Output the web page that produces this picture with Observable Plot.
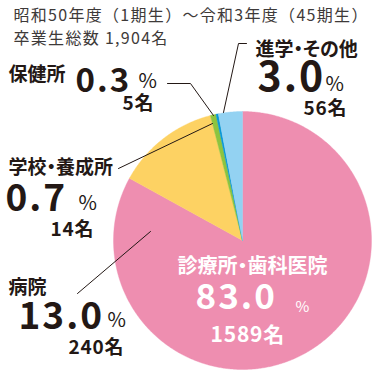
<!DOCTYPE html>
<html><head><meta charset="utf-8">
<script src="https://cdn.jsdelivr.net/npm/d3@7"></script>
<script src="https://cdn.jsdelivr.net/npm/@observablehq/plot@0.6"></script>
<style>
body{margin:0;background:#fff}
svg{display:block}
</style>
</head><body><div id="chart"></div>
<script>
// ---- data ----
const categories = ["診療所・歯科医院","病院","学校・養成所","保健所","進学・その他"];
const percents = [83.0, 13.0, 0.7, 0.3, 3.0];
const counts = [1589, 240, 14, 5, 56];
const colors = ["#EE8EB0","#FDD263","#8DC43F","#0A98D6","#93D2F2"];
const titleLines = ["昭和50年度（1期生）～令和3年度（45期生）","卒業生総数 1,904名"];

// ---- layout (pixels) ----
const W = 375, H = 375;
const pie = {cx: 242, cy: 240, r: 129};
const FONT = "'Noto Sans CJK JP', 'Noto Sans', sans-serif";
const INK = "#231815";
// per category: name, number, percent sign, count positions (glyph centres)
const layout = [
  {name:[177,266,20], num:[195,297.5,35], pct:[295,307,15], cnt:[210,334.5,21], fill:"#fff"},
  {name:[8,287.5,19], num:[18,316.5,37], pct:[107,320.5,20], cnt:[68,347.5,19], fill:INK},
  {name:[8,167.5,19], num:[5,198.5,37], pct:[78,203.5,20], cnt:[50,229.5,19], fill:INK},
  {name:[8,74.5,19], num:[75,81,33], pct:[138,81.5,20], cnt:[122,103.5,19], fill:INK},
  {name:[255,49,19], num:[257,77,41], pct:[325,84.5,20], cnt:[303,108.5,19], fill:INK}
];
const leaders = [
  [[77,293],[150,231]],
  [[118,168],[212,123]],
  [[167,83],[190,83],[213,115]],
  [[246,43],[238,43],[223,112]]
];
// extra text styling per text mark (in mark order)
const textStyles = [
  "letter-spacing:1.3px",                               // title
  "font-feature-settings:'palt'",                       // names
  "letter-spacing:2px",                                 // big numbers
  "",                                                   // %
  "letter-spacing:0.8px;font-feature-settings:'palt'"   // counts
];

// ---- pie geometry from the data ----
const arcs = d3.pie().sort(null).value(d => d.value)(categories.map((c,i)=>({cat:c, value:percents[i]})));
const piePts = [];
arcs.forEach(a => {
  const cat = a.data.cat;
  piePts.push({cat, x: pie.cx, y: pie.cy});
  const n = Math.max(2, Math.ceil((a.endAngle - a.startAngle) / (Math.PI/360)));
  for (let k = 0; k <= n; k++) {
    const t = a.startAngle + (a.endAngle - a.startAngle) * k / n;
    piePts.push({cat, x: pie.cx + pie.r*Math.sin(t), y: pie.cy - pie.r*Math.cos(t)});
  }
  piePts.push({cat, x: pie.cx, y: pie.cy});
});

const rows = categories.map((c,i)=>({
  cat:c, lay:layout[i],
  name:c, num:percents[i].toFixed(1), pct:"%", cnt:counts[i]+"名"
}));
const textMark = (key, weight) => Plot.text(rows, {
  x: d => d.lay[key][0], y: d => d.lay[key][1], text: d => d[key],
  fontSize: d => d.lay[key][2], fill: d => d.lay.fill,
  textAnchor: "start", lineAnchor: "middle", fontWeight: weight,
  fontFamily: FONT
});
const leaderPts = leaders.flatMap((pts,i)=>pts.map(p=>({id:i, x:p[0], y:p[1]})));

const chart = Plot.plot({
  width: W, height: H, margin: 0,
  x: {domain:[0,W], range:[0,W], axis:null},
  y: {domain:[0,H], range:[0,H], axis:null},
  color: {domain: categories, range: colors},
  style: {fontFamily: FONT, background:"#fff"},
  marks: [
    Plot.line(piePts, {x:"x", y:"y", z:"cat", fill:"cat", stroke:"cat", strokeWidth:0.4, curve:"linear"}),
    Plot.line(leaderPts, {x:"x", y:"y", z:"id", stroke:INK, strokeWidth:1}),
    Plot.text(titleLines, {x: 13, y: (d,i)=> [15,38][i], text: d=>d, textAnchor:"start", lineAnchor:"middle", fontSize:16, fill:"#3e3a39", fontFamily:FONT}),
    textMark("name", "bold"),
    textMark("num", "bold"),
    textMark("pct", "normal"),
    textMark("cnt", "bold")
  ]
});
d3.select(chart).selectAll('g[aria-label="text"]').each(function(_, i) {
  if (textStyles[i]) d3.select(this).attr("style", textStyles[i]);
});
document.getElementById("chart").append(chart);
</script>
</body></html>
